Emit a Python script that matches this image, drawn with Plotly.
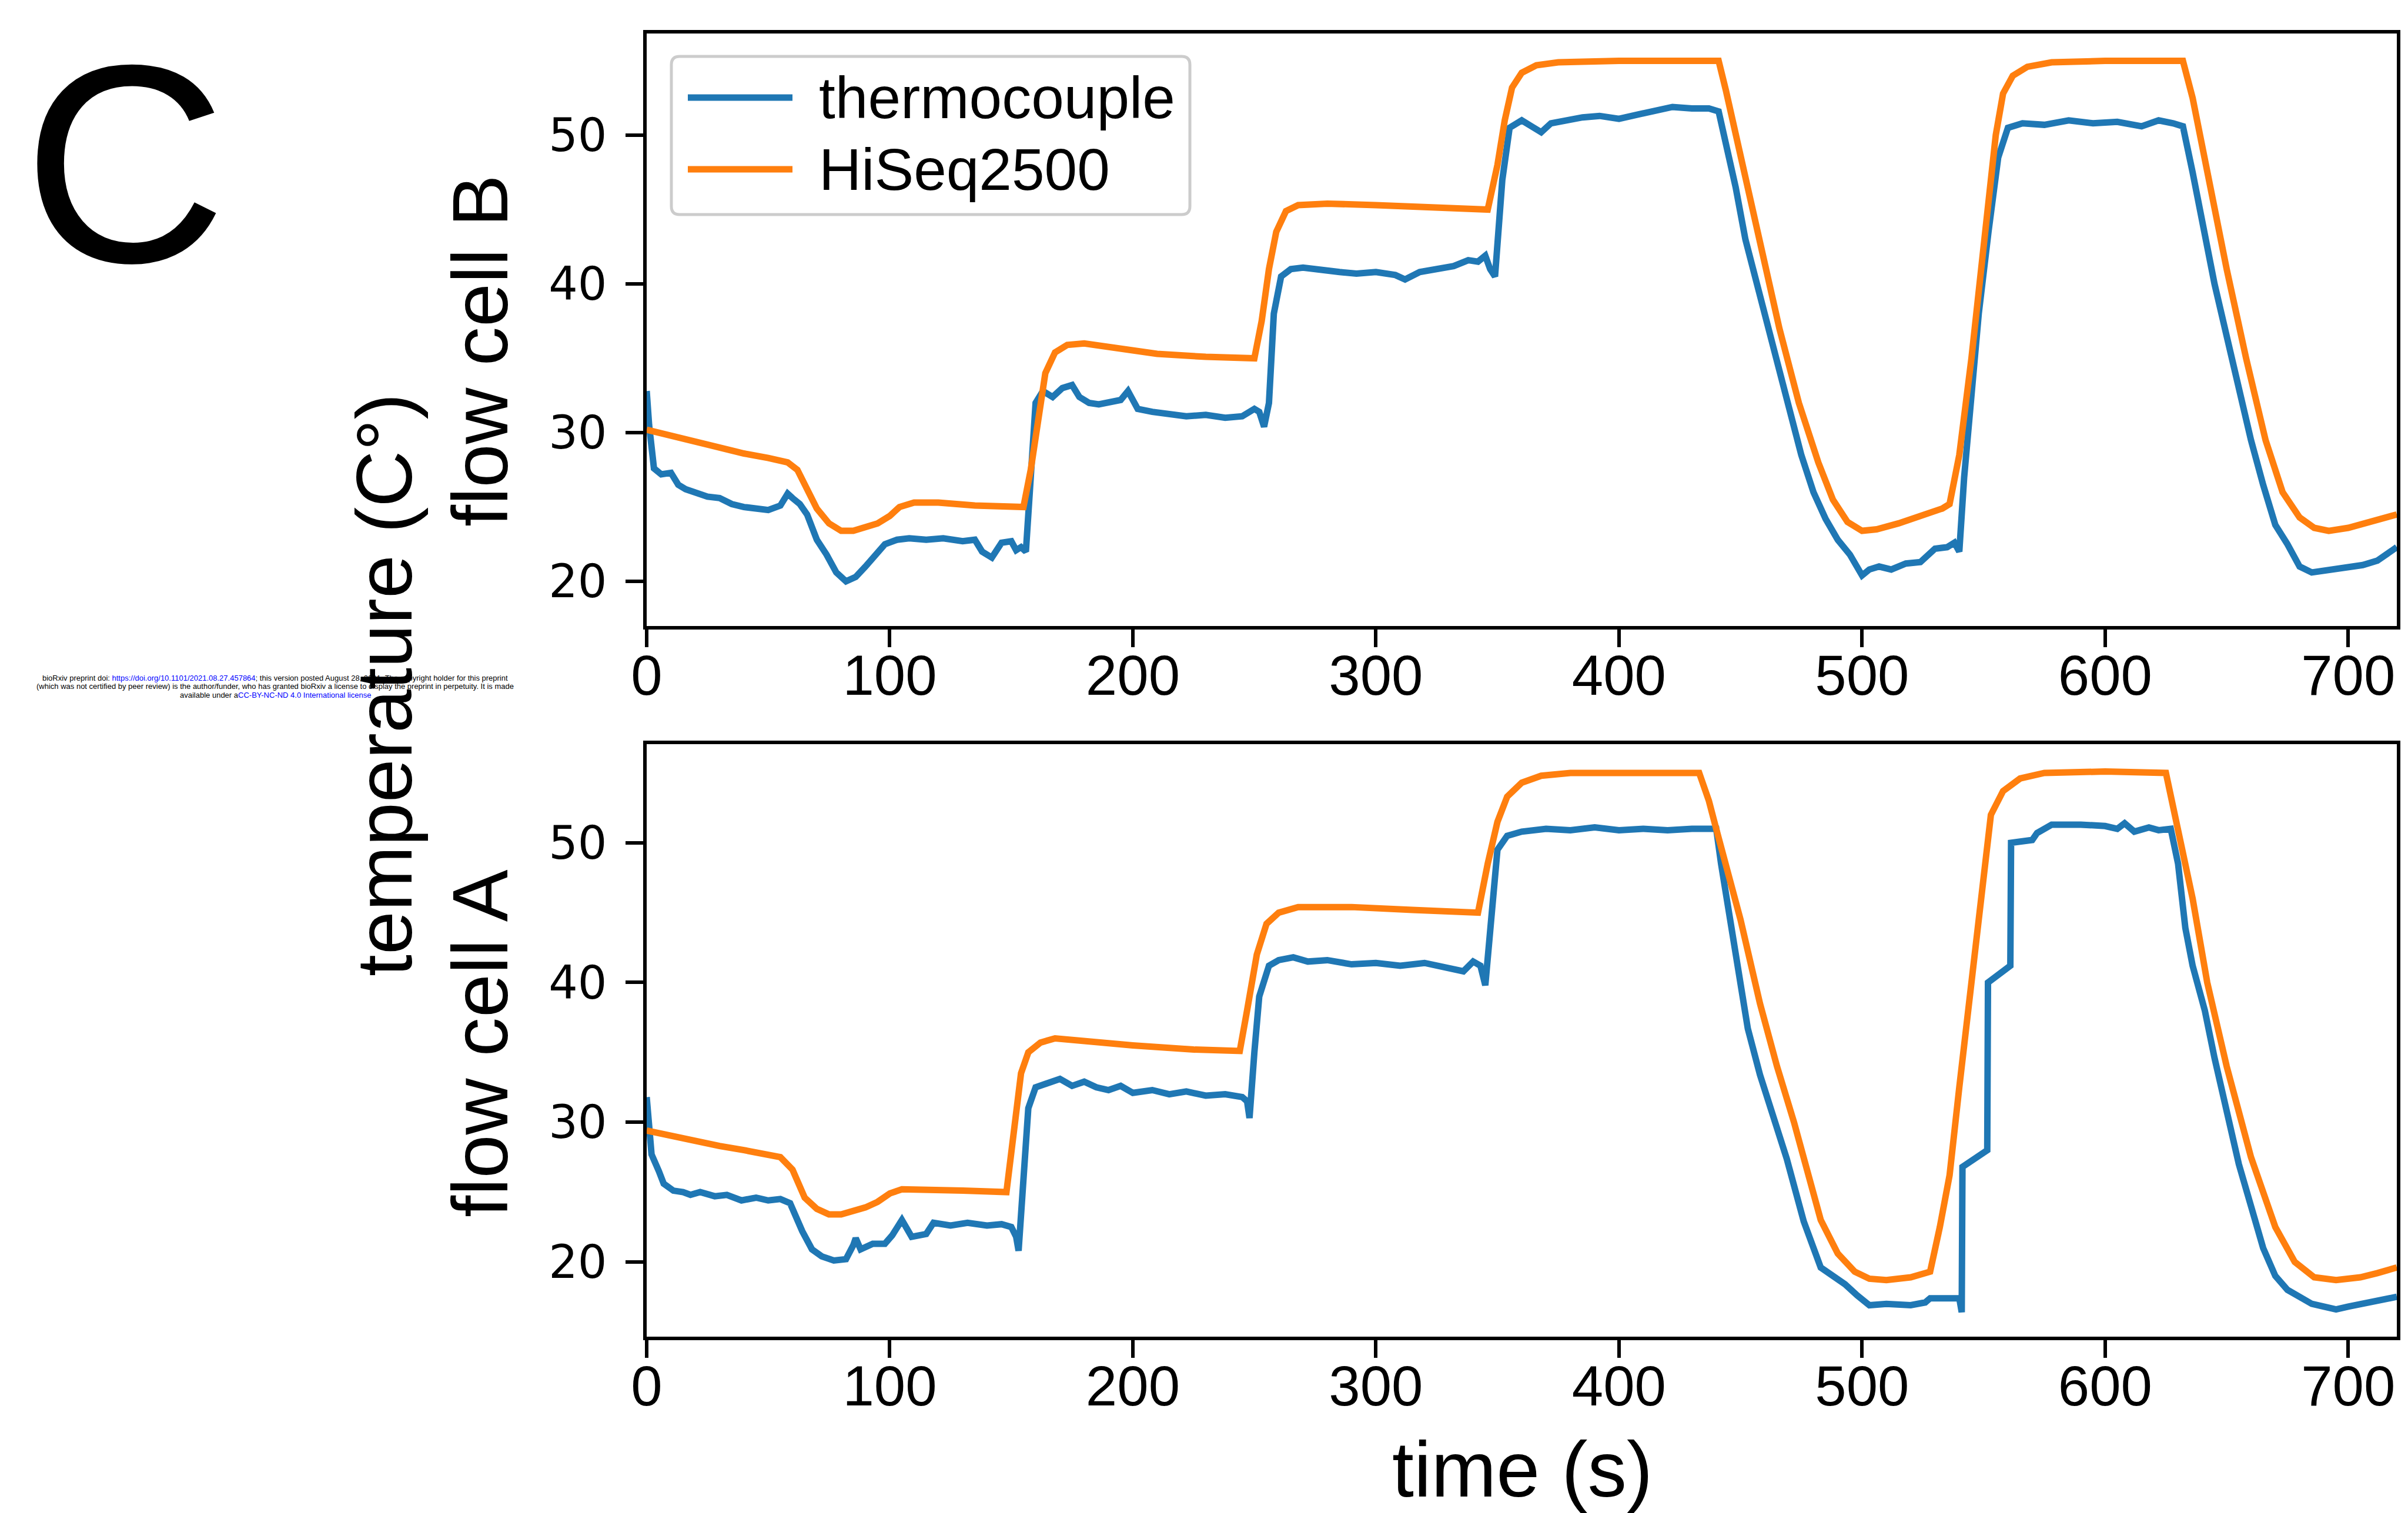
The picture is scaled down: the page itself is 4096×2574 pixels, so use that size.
import plotly.graph_objects as go

# ---------------- data ----------------
# flow cell B (top panel)
b_tc_time = [0, 1, 3, 6, 10, 13, 16, 20, 25, 30, 35, 40, 45, 50, 55, 58, 60, 63, 66, 70, 74, 78, 82, 86, 90, 94, 98,
             103, 108, 115, 122, 130, 135, 138, 142, 146, 150, 152, 154, 156, 158, 160, 163, 167, 171, 175, 178, 182,
             186, 190, 195, 198, 202, 208, 215, 222, 230, 238, 245, 250, 252, 254, 256, 258, 261, 265, 270, 278, 285,
             292, 300, 308, 312, 318, 325, 332, 338, 342, 345, 347, 349, 352, 355, 360, 364, 368, 372, 378, 385, 392,
             400, 408, 415, 422, 430, 437, 441, 444, 448, 452, 456, 460, 465, 470, 475, 480, 485, 490, 495, 500, 503,
             507, 512, 518, 524, 530, 535, 538, 540, 542, 545, 548, 552, 556, 560, 566, 575, 585, 595, 605, 615, 622,
             628, 632, 636, 640, 645, 650, 655, 660, 665, 670, 675, 680, 685, 690, 695, 700, 706, 712, 716, 720]
b_tc_temp = [32.8, 30.5, 27.6, 27.2, 27.3, 26.5, 26.2, 26.0, 25.7, 25.6, 25.2, 25.0, 24.9, 24.8, 25.1, 25.9, 25.6,
             25.2, 24.5, 22.8, 21.8, 20.6, 20.0, 20.3, 21.0, 21.8, 22.5, 22.8, 22.9, 22.8, 22.9, 22.7, 22.8, 22.0,
             21.6, 22.6, 22.7, 22.1, 22.3, 22.0, 27.0, 32.0, 32.8, 32.4, 33.0, 33.2, 32.4, 32.0, 31.9, 32.0, 32.2,
             32.8, 31.6, 31.4, 31.2, 31.1, 31.2, 31.0, 31.1, 31.6, 31.4, 30.4, 32.0, 38.0, 40.5, 41.0, 41.1, 40.9,
             40.8, 40.7, 40.8, 40.6, 40.3, 40.8, 41.0, 41.2, 41.6, 41.5, 41.9, 41.0, 40.5, 47.0, 50.5, 51.0, 50.6,
             50.2, 50.8, 51.0, 51.2, 51.3, 51.1, 51.4, 51.6, 51.9, 51.8, 51.8, 51.6, 49.5, 46.5, 43.0, 40.5, 38.0,
             34.8, 31.5, 28.5, 26.0, 24.2, 22.8, 21.8, 20.4, 20.8, 21.0, 20.8, 21.2, 21.3, 22.2, 22.3, 22.6, 22.0,
             27.0, 33.0, 38.0, 43.5, 48.5, 50.5, 50.8, 50.7, 51.0, 50.8, 50.9, 50.6, 51.0, 50.8, 50.6, 47.5, 44.0,
             40.0, 36.5, 33.0, 29.5, 26.5, 23.8, 22.5, 21.0, 20.6, 20.7, 20.8, 20.9, 21.1, 21.4, 21.8, 22.3]

b_hs_time = [0, 10, 20, 30, 40, 50, 58, 62, 66, 70, 75, 80, 85, 90, 95, 100, 104, 110, 120, 135, 155, 158, 161, 164,
             168, 173, 180, 195, 210, 230, 250, 253, 256, 259, 263, 268, 280, 300, 325, 346, 350, 353, 356, 360, 366,
             375, 400, 441, 444, 450, 458, 466, 474, 482, 488, 494, 500, 506, 515, 525, 533, 536, 540, 545, 550, 555,
             558, 562, 568, 578, 600, 632, 636, 642, 650, 658, 666, 673, 680, 686, 692, 700, 710, 720]
b_hs_temp = [30.2, 29.8, 29.3, 28.9, 28.6, 28.3, 28.0, 27.5, 26.3, 24.9, 23.9, 23.4, 23.4, 23.6, 23.9, 24.4, 25.0,
             25.3, 25.3, 25.1, 25.0, 27.5, 31.0, 34.0, 35.4, 35.9, 36.0, 35.6, 35.3, 35.1, 35.0, 37.5, 41.0, 43.5,
             44.9, 45.3, 45.4, 45.3, 45.1, 45.0, 48.0, 51.0, 53.2, 54.2, 54.7, 54.9, 55.0, 55.0, 53.0, 48.5, 42.5,
             37.0, 32.0, 28.0, 25.5, 24.0, 23.4, 23.5, 23.9, 24.4, 24.9, 25.2, 28.5, 35.0, 43.0, 50.0, 52.8, 54.0,
             54.6, 54.9, 55.0, 55.0, 52.5, 47.5, 41.0, 35.0, 29.5, 26.0, 24.3, 23.6, 23.4, 23.6, 24.0, 24.5]

# flow cell A (bottom panel)
a_tc_time = [0, 1, 2, 5, 7, 11, 15, 18, 22, 28, 33, 39, 45, 50, 55, 59, 61, 64, 68, 72, 77, 82, 85, 86, 88, 93, 98,
             101, 105, 109, 115, 118, 125, 132, 140, 146, 150, 152, 153, 155, 157, 160, 165, 170, 175, 180, 185, 190,
             195, 200, 208, 215, 222, 230, 238, 245, 247, 248, 250, 252, 256, 260, 266, 272, 280, 290, 300, 310, 320,
             330, 336, 340, 343, 345, 347, 350, 354, 360, 370, 380, 390, 400, 410, 420, 430, 440, 442, 445, 449, 453,
             458, 463, 469, 476, 483, 488, 493, 498, 503, 510, 520, 526, 528, 540, 541, 541.3, 551.5, 551.8, 561,
             561.3, 570, 572, 578, 590, 600, 605, 608, 612, 618, 622, 627, 630, 633, 636, 641, 645, 650, 655, 660,
             665, 670, 675, 680, 685, 690, 695, 700, 705, 710, 715, 720]
a_tc_temp = [31.8, 29.5, 27.7, 26.5, 25.6, 25.1, 25.0, 24.8, 25.0, 24.7, 24.8, 24.4, 24.6, 24.4, 24.5, 24.2, 23.3,
             22.2, 20.9, 20.4, 20.1, 20.2, 21.2, 21.7, 20.9, 21.3, 21.3, 21.9, 23.0, 21.8, 22.0, 22.8, 22.6, 22.8,
             22.6, 22.7, 22.5, 21.8, 20.8, 26.0, 31.0, 32.5, 32.8, 33.1, 32.6, 32.9, 32.5, 32.3, 32.6, 32.1, 32.3,
             32.0, 32.2, 31.9, 32.0, 31.8, 31.5, 30.3, 35.0, 39.0, 41.2, 41.6, 41.8, 41.5, 41.6, 41.3, 41.4, 41.2,
             41.4, 41.0, 40.8, 41.5, 41.2, 39.8, 44.0, 49.5, 50.5, 50.8, 51.0, 50.9, 51.1, 50.9, 51.0, 50.9, 51.0,
             51.0, 48.5, 45.4, 41.0, 36.7, 33.4, 30.5, 27.4, 22.9, 19.6, 19.0, 18.4, 17.6, 16.9, 17.0, 16.9, 17.1,
             17.4, 17.4, 16.4, 26.8, 28.0, 40.0, 41.2, 50.0, 50.2, 50.7, 51.3, 51.3, 51.2, 51.0, 51.4, 50.8, 51.1,
             50.9, 51.0, 48.5, 43.9, 41.2, 38.0, 34.6, 31.0, 27.0, 24.0, 21.0, 19.0, 18.0, 17.5, 17.0, 16.8, 16.6,
             16.8, 17.0, 17.2, 17.3, 17.5]

a_hs_time = [0, 10, 20, 30, 40, 50, 55, 60, 65, 70, 75, 80, 85, 90, 95, 100, 105, 115, 130, 148, 151, 154, 157, 162,
             168, 180, 200, 225, 244, 247, 251, 255, 260, 268, 290, 315, 342, 346, 350, 354, 360, 368, 380, 433, 437,
             440, 450, 458, 465, 472, 478, 483, 490, 497, 503, 510, 520, 528, 532, 536, 540, 545, 550, 553, 558, 565,
             575, 600, 625, 630, 636, 642, 650, 660, 670, 678, 686, 695, 705, 712, 720]
a_hs_temp = [29.4, 29.0, 28.6, 28.3, 28.0, 27.7, 27.5, 26.6, 24.6, 23.8, 23.4, 23.4, 23.6, 23.9, 24.3, 24.9, 25.2,
             25.2, 25.1, 25.0, 29.0, 33.5, 35.0, 35.7, 36.0, 35.8, 35.5, 35.2, 35.1, 38.0, 42.0, 44.2, 45.0, 45.4,
             45.4, 45.2, 45.0, 48.5, 51.5, 53.3, 54.3, 54.8, 55.0, 55.0, 53.0, 51.0, 44.5, 38.5, 34.0, 30.0, 26.0,
             23.0, 20.6, 19.3, 18.8, 18.7, 18.9, 19.3, 22.5, 26.2, 32.5, 40.0, 47.5, 52.0, 53.7, 54.6, 55.0, 55.1,
             55.0, 51.0, 46.0, 40.0, 34.0, 27.5, 22.5, 20.0, 18.9, 18.7, 18.9, 19.2, 19.6]

x_ticks = [0, 100, 200, 300, 400, 500, 600, 700]
y_ticks = [20, 30, 40, 50]
series_names = ["thermocouple", "HiSeq2500"]
panel_labels = ["flow cell B", "flow cell A"]

# ---------------- style ----------------
W, H = 4096, 2574
OFF = 8  # default page body margin of the html page
BLUE = "#1f77b4"
ORANGE = "#ff7f0e"
SANS = "Liberation Sans, Arial, sans-serif"
WIDE = "DejaVu Sans, sans-serif"
LW = 11


def px(x):
    return (x - OFF) / W


def py(y):
    return 1 - (y - OFF) / H


fig = go.Figure()
fig.add_trace(go.Scatter(x=b_tc_time, y=b_tc_temp, mode="lines", name=series_names[0],
                         line=dict(color=BLUE, width=LW), xaxis="x", yaxis="y", showlegend=False))
fig.add_trace(go.Scatter(x=b_hs_time, y=b_hs_temp, mode="lines", name=series_names[1],
                         line=dict(color=ORANGE, width=LW), xaxis="x", yaxis="y", showlegend=False))
fig.add_trace(go.Scatter(x=a_tc_time, y=a_tc_temp, mode="lines", name=series_names[0],
                         line=dict(color=BLUE, width=LW), xaxis="x2", yaxis="y2", showlegend=False))
fig.add_trace(go.Scatter(x=a_hs_time, y=a_hs_temp, mode="lines", name=series_names[1],
                         line=dict(color=ORANGE, width=LW), xaxis="x2", yaxis="y2", showlegend=False))

xdom = [px(1100), px(4077)]
axis_common = dict(showline=True, linecolor="black", linewidth=6, mirror=True, ticks="outside",
                   ticklen=30, tickwidth=6, tickcolor="black", showgrid=False, zeroline=False,
                   automargin=False)
xax = dict(axis_common, range=[0, 720], tickvals=x_ticks, domain=xdom,
           tickfont=dict(family=SANS, size=96, color="black"), ticklabelstandoff=-34)
yax = dict(axis_common, tickvals=y_ticks, tickfont=dict(family=WIDE, size=78, color="black"),
           ticklabelstandoff=16)

fig.update_layout(
    width=W, height=H,
    margin=dict(l=0, r=0, t=0, b=0, autoexpand=False),
    paper_bgcolor="white", plot_bgcolor="white",
    xaxis=dict(xax, anchor="y"),
    yaxis=dict(yax, anchor="x", range=[17.0, 56.84], domain=[py(1065), py(57)]),
    xaxis2=dict(xax, anchor="y2"),
    yaxis2=dict(yax, anchor="x2", range=[14.65, 57.06], domain=[py(2274), py(1266)]),
    showlegend=False,
)

ann = []
# preprint notice (tiny)
ann.append(dict(text="bioRxiv preprint doi: <span style='color:blue'>https://doi.org/10.1101/2021.08.27.457864</span>; "
                     "this version posted August 28, 2021. The copyright holder for this preprint",
                x=px(468), y=py(1153), xref="paper", yref="paper", showarrow=False,
                font=dict(family=SANS, size=13, color="black"), xanchor="center", yanchor="middle"))
ann.append(dict(text="(which was not certified by peer review) is the author/funder, who has granted bioRxiv a license "
                     "to display the preprint in perpetuity. It is made",
                x=px(468), y=py(1167), xref="paper", yref="paper", showarrow=False,
                font=dict(family=SANS, size=13, color="black"), xanchor="center", yanchor="middle"))
ann.append(dict(text="available under a<span style='color:blue'>CC-BY-NC-ND 4.0 International license</span>",
                x=px(468), y=py(1182), xref="paper", yref="paper", showarrow=False,
                font=dict(family=SANS, size=13, color="black"), xanchor="center", yanchor="middle"))
# panel letter (box kept inside the page)
ann.append(dict(text="C", x=px(212), y=1.0, xref="paper", yref="paper", showarrow=False,
                font=dict(family=SANS, size=480, color="black"), xanchor="center", yanchor="top"))
# axis titles
ann.append(dict(text="temperature (C°)", x=px(654), y=py(1165), xref="paper", yref="paper", showarrow=False,
                textangle=-90, font=dict(family=SANS, size=133, color="black"), xanchor="center", yanchor="middle"))
ann.append(dict(text=panel_labels[0], x=px(817), y=py(597), xref="paper", yref="paper", showarrow=False,
                textangle=-90, font=dict(family=SANS, size=133, color="black"), xanchor="center", yanchor="middle"))
ann.append(dict(text=panel_labels[1], x=px(817), y=py(1775), xref="paper", yref="paper", showarrow=False,
                textangle=-90, font=dict(family=SANS, size=133, color="black"), xanchor="center", yanchor="middle"))
ann.append(dict(text="time (s)", x=px(2589), y=py(2500), xref="paper", yref="paper", showarrow=False,
                font=dict(family=SANS, size=133, color="black"), xanchor="center", yanchor="middle"))

# legend (matplotlib style box)
lx0, lx1, ly0, ly1, r = 1142, 2024, 96, 365, 14
path = (f"M{px(lx0 + r)},{py(ly0)} L{px(lx1 - r)},{py(ly0)} Q{px(lx1)},{py(ly0)} {px(lx1)},{py(ly0 + r)} "
        f"L{px(lx1)},{py(ly1 - r)} Q{px(lx1)},{py(ly1)} {px(lx1 - r)},{py(ly1)} "
        f"L{px(lx0 + r)},{py(ly1)} Q{px(lx0)},{py(ly1)} {px(lx0)},{py(ly1 - r)} "
        f"L{px(lx0)},{py(ly0 + r)} Q{px(lx0)},{py(ly0)} {px(lx0 + r)},{py(ly0)} Z")
shapes = [dict(type="path", path=path, xref="paper", yref="paper",
               line=dict(color="#cccccc", width=5), fillcolor="rgba(255,255,255,0.8)", layer="above")]
for yy, col in [(166, BLUE), (288, ORANGE)]:
    shapes.append(dict(type="line", x0=px(1170), x1=px(1348), y0=py(yy), y1=py(yy), xref="paper", yref="paper",
                       line=dict(color=col, width=LW), layer="above"))
ann.append(dict(text=series_names[0], x=px(1391), y=py(166), xref="paper", yref="paper", showarrow=False,
                font=dict(family=SANS, size=100, color="black"), xanchor="left", yanchor="middle"))
ann.append(dict(text=series_names[1], x=px(1391), y=py(288), xref="paper", yref="paper", showarrow=False,
                font=dict(family=SANS, size=100, color="black"), xanchor="left", yanchor="middle"))

fig.update_layout(annotations=ann, shapes=shapes)
fig.write_html("out.html")
